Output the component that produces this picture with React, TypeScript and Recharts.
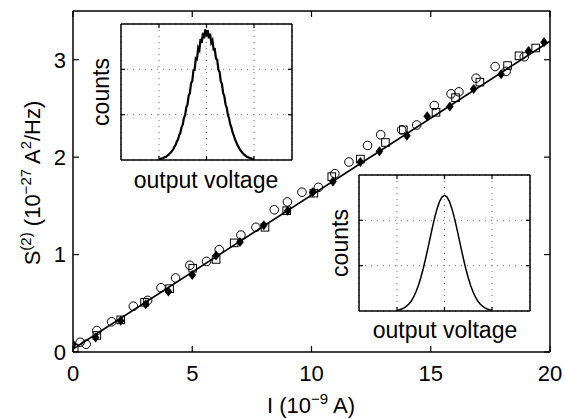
import React from 'react';
import {
  ComposedChart,
  LineChart,
  Line,
  Scatter,
  XAxis,
  YAxis,
  CartesianGrid,
} from 'recharts';

// main panel: S(2) vs I, three measurement sets plus linear fit
const xTicks = [0, 5, 10, 15, 20];
const yTicks = [0, 1, 2, 3];

const circles = [
  { i: 0.3, s: 0.10 }, { i: 0.55, s: 0.08 }, { i: 1.0, s: 0.22 }, { i: 1.62, s: 0.31 },
  { i: 2.53, s: 0.47 }, { i: 3.13, s: 0.53 }, { i: 3.69, s: 0.66 }, { i: 4.3, s: 0.76 },
  { i: 4.9, s: 0.89 }, { i: 5.6, s: 0.93 }, { i: 6.13, s: 1.05 }, { i: 7.04, s: 1.20 },
  { i: 7.67, s: 1.28 }, { i: 8.44, s: 1.46 }, { i: 8.99, s: 1.54 }, { i: 9.6, s: 1.64 },
  { i: 10.29, s: 1.69 }, { i: 10.98, s: 1.83 }, { i: 11.57, s: 1.95 }, { i: 12.35, s: 2.12 },
  { i: 12.9, s: 2.23 }, { i: 13.78, s: 2.28 }, { i: 14.41, s: 2.33 }, { i: 15.15, s: 2.53 },
  { i: 15.85, s: 2.65 }, { i: 16.18, s: 2.67 }, { i: 16.9, s: 2.81 }, { i: 17.7, s: 2.93 },
  { i: 18.16, s: 2.88 }, { i: 18.92, s: 3.03 },
];

const squares = [
  { i: 0.05, s: 0.04 }, { i: 1.0, s: 0.17 }, { i: 2.0, s: 0.33 }, { i: 3.0, s: 0.51 },
  { i: 4.05, s: 0.65 }, { i: 5.02, s: 0.86 }, { i: 6.0, s: 0.95 }, { i: 6.76, s: 1.12 },
  { i: 8.05, s: 1.28 }, { i: 8.96, s: 1.45 }, { i: 10.1, s: 1.63 }, { i: 10.85, s: 1.80 },
  { i: 12.05, s: 1.98 }, { i: 13.1, s: 2.15 }, { i: 13.85, s: 2.28 }, { i: 15.22, s: 2.46 },
  { i: 16.04, s: 2.61 }, { i: 17.06, s: 2.77 }, { i: 18.22, s: 2.94 }, { i: 18.7, s: 3.04 },
  { i: 19.4, s: 3.12 },
];

const diamonds = [
  { i: 0, s: 0.08 }, { i: 0.95, s: 0.15 }, { i: 2.0, s: 0.32 }, { i: 3.05, s: 0.49 },
  { i: 4.0, s: 0.62 }, { i: 5.0, s: 0.79 }, { i: 6.0, s: 0.99 }, { i: 7.0, s: 1.13 },
  { i: 8.0, s: 1.30 }, { i: 9.0, s: 1.45 }, { i: 10.05, s: 1.64 }, { i: 10.9, s: 1.75 },
  { i: 12.05, s: 1.95 }, { i: 12.85, s: 2.06 }, { i: 14.0, s: 2.22 }, { i: 14.85, s: 2.42 },
  { i: 15.8, s: 2.52 }, { i: 16.8, s: 2.70 }, { i: 17.95, s: 2.85 }, { i: 19.1, s: 3.09 },
  { i: 19.75, s: 3.18 },
];

const fitLine = [{ i: 0, s: 0.03 }, { i: 20, s: 3.19 }];

// insets: histograms of output voltage (arbitrary units)
const insetXTicks = [-2, 0, 2];
const insetYTicks = [0.333, 0.667];

const hist1Counts = [
  0.006, 0.008, 0.011, 0.012, 0.017, 0.021, 0.024, 0.032, 0.037, 0.048,
  0.055, 0.069, 0.078, 0.098, 0.110, 0.136, 0.150, 0.183, 0.200, 0.242,
  0.260, 0.310, 0.330, 0.388, 0.408, 0.474, 0.492, 0.565, 0.578, 0.660,
  0.662, 0.748, 0.742, 0.825, 0.808, 0.890, 0.862, 0.935, 0.895, 0.960,
  0.910, 0.955, 0.895, 0.930, 0.862, 0.880, 0.812, 0.815, 0.745, 0.738,
  0.665, 0.650, 0.580, 0.560, 0.492, 0.470, 0.410, 0.385, 0.332, 0.306,
  0.262, 0.238, 0.202, 0.180, 0.152, 0.133, 0.111, 0.096, 0.079, 0.067,
  0.055, 0.046, 0.037, 0.031, 0.024, 0.020, 0.016, 0.013, 0.010, 0.008,
  0.006,
];

const hist2Counts = [
  0.006, 0.009, 0.015, 0.023, 0.035, 0.051, 0.073, 0.103, 0.141, 0.187,
  0.244, 0.309, 0.382, 0.461, 0.542, 0.622, 0.696, 0.760, 0.808, 0.839,
  0.850, 0.839, 0.808, 0.760, 0.696, 0.622, 0.542, 0.461, 0.382, 0.309,
  0.244, 0.187, 0.141, 0.103, 0.073, 0.051, 0.035, 0.023, 0.015, 0.009,
  0.006,
];

const hist1 = hist1Counts.map((c, k) => ({ v: -2 + k * 0.05, c }));
const hist2 = hist2Counts.map((c, k) => ({ v: -2 + k * 0.1, c }));

const FONT = '"Liberation Sans", Arial, Helvetica, sans-serif';
const axisLine = { stroke: '#000', strokeWidth: 1.5 };
const tickLine = { stroke: '#000', strokeWidth: 1.2 };
const tickText = { fill: '#000', fontSize: 22, fontFamily: FONT };
const noLabel = () => '';

const OpenCircle = (p: any) => (
  <circle cx={p.cx} cy={p.cy} r={4.3} fill="none" stroke="#000" strokeWidth={1} />
);
const OpenSquare = (p: any) => (
  <rect x={p.cx - 3.8} y={p.cy - 3.8} width={7.6} height={7.6} fill="none" stroke="#000" strokeWidth={1} />
);
const Diamond = (p: any) => (
  <polygon
    points={`${p.cx},${p.cy - 5} ${p.cx + 3.8},${p.cy} ${p.cx},${p.cy + 5} ${p.cx - 3.8},${p.cy}`}
    fill="#000"
  />
);

// box with inward ticks: mirrored axes on all four sides (they take no space)
const boxAxes = (xKey: string, xd: number[], yd: number[], xt: number[], yt: number[], len: number) => [
  <XAxis key="bm" xAxisId="bm" dataKey={xKey} type="number" domain={xd} ticks={xt} orientation="bottom" mirror
    height={len} tickFormatter={noLabel} tickSize={len} axisLine={axisLine} tickLine={tickLine} allowDataOverflow />,
  <XAxis key="tm" xAxisId="tm" dataKey={xKey} type="number" domain={xd} ticks={xt} orientation="top" mirror
    height={len} tickFormatter={noLabel} tickSize={len} axisLine={axisLine} tickLine={tickLine} allowDataOverflow />,
  <YAxis key="lm" yAxisId="lm" type="number" domain={yd} ticks={yt} orientation="left" mirror
    width={len} tickFormatter={noLabel} tickSize={len} axisLine={axisLine} tickLine={tickLine} allowDataOverflow />,
  <YAxis key="rm" yAxisId="rm" type="number" domain={yd} ticks={yt} orientation="right" mirror
    width={len} tickFormatter={noLabel} tickSize={len} axisLine={axisLine} tickLine={tickLine} allowDataOverflow />,
];

const Inset = ({ left, top, data, width }: { left: number; top: number; data: any[]; width: number }) => (
  <div style={{ position: 'absolute', left: left - 2, top: top - 2, width: 175, height: 140 }}>
    <div style={{ position: 'absolute', left: 2, top: 2, width: 171, height: 136, background: '#fff' }} />
    <div style={{ position: 'absolute', left: 0, top: 0 }}>
      <LineChart width={175} height={140} margin={{ top: 2, right: 2, bottom: 2, left: 2 }}>
        <CartesianGrid xAxisId="bm" yAxisId="lm" stroke="#777" strokeDasharray="1 5" />
        {boxAxes('v', [-3.6, 3.6], [0, 1], insetXTicks, insetYTicks, 4)}
        <Line xAxisId="bm" yAxisId="lm" data={data} dataKey="c" type="linear" dot={false}
          stroke="#000" strokeWidth={width} isAnimationActive={false} />
      </LineChart>
    </div>
  </div>
);

export default function App() {
  return (
    <div style={{ position: 'absolute', left: 0, top: 0, width: 565, height: 419, background: '#fff', fontFamily: FONT }}>
      <ComposedChart width={565} height={419} margin={{ top: 11, right: 15, left: 0, bottom: 0 }}>
        <XAxis xAxisId="b" dataKey="i" type="number" domain={[0, 20]} ticks={xTicks} orientation="bottom"
          height={67} tickSize={6} tickMargin={7} axisLine={false} tickLine={false}
          tick={tickText} allowDataOverflow />
        <YAxis yAxisId="l" dataKey="s" type="number" domain={[0, 3.5]} ticks={yTicks} orientation="left"
          width={73} tickSize={6} tickMargin={1} axisLine={false} tickLine={false}
          tick={tickText} allowDataOverflow />
        {boxAxes('i', [0, 20], [0, 3.5], xTicks, yTicks, 6)}
        <Scatter xAxisId="b" yAxisId="l" data={circles} shape={OpenCircle} isAnimationActive={false} />
        <Scatter xAxisId="b" yAxisId="l" data={squares} shape={OpenSquare} isAnimationActive={false} />
        <Scatter xAxisId="b" yAxisId="l" data={diamonds} shape={Diamond} isAnimationActive={false} />
        <Line xAxisId="b" yAxisId="l" data={fitLine} dataKey="s" type="linear" dot={false}
          stroke="#000" strokeWidth={1.6} isAnimationActive={false} />
      </ComposedChart>

      <Inset left={121} top={24} data={hist1} width={2.2} />
      <Inset left={359} top={175} data={hist2} width={1.5} />

      <svg width={565} height={419} style={{ position: 'absolute', left: 0, top: 0, pointerEvents: 'none' }}
        fontFamily={FONT} fill="#000">
        <text transform="translate(40,183) rotate(-90)" textAnchor="middle" fontSize={22}>
          S<tspan dy={-9} fontSize={15}>(2)</tspan>
          <tspan dy={9}> (10</tspan>
          <tspan dy={-9} fontSize={15}>−27</tspan>
          <tspan dy={9}> A</tspan>
          <tspan dy={-9} fontSize={15}>2</tspan>
          <tspan dy={9}>/Hz)</tspan>
        </text>
        <text x={311} y={413} textAnchor="middle" fontSize={22}>
          I (10<tspan dy={-9} fontSize={15}>−9</tspan>
          <tspan dy={9}> A)</tspan>
        </text>
        <text transform="translate(109,92) rotate(-90)" textAnchor="middle" fontSize={23}>counts</text>
        <text x={206} y={188} textAnchor="middle" fontSize={23}>output voltage</text>
        <text transform="translate(348,243) rotate(-90)" textAnchor="middle" fontSize={23}>counts</text>
        <text x={445} y={338} textAnchor="middle" fontSize={23}>output voltage</text>
      </svg>
    </div>
  );
}
